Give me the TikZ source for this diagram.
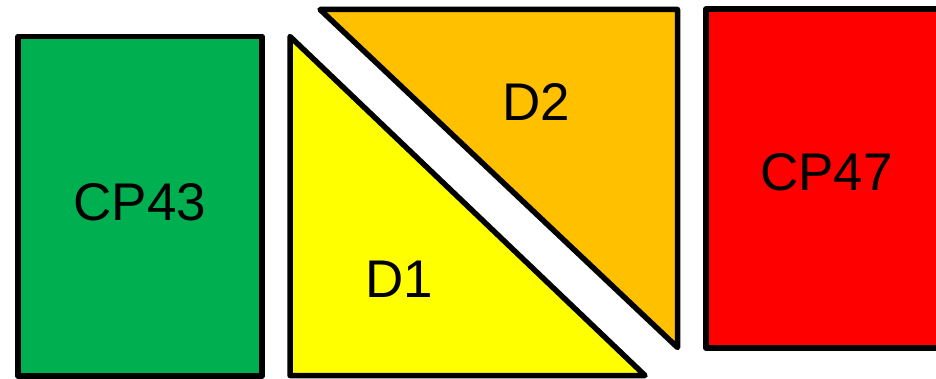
\documentclass[tikz,border=0pt]{standalone}
\usepackage{fontspec}
\setmainfont{Liberation Sans}
\usepackage{xcolor}
\definecolor{cpgreen}{RGB}{0,176,80}
\definecolor{dyellow}{RGB}{255,255,0}
\definecolor{dorange}{RGB}{255,192,0}
\definecolor{cpred}{RGB}{255,0,0}
\tikzset{
  piece/.style={draw=black,line width=5.5pt,line join=round},
  tag/.style={font=\fontsize{53}{62}\selectfont,inner sep=0pt,text=black}
}

\begin{document}
\begin{tikzpicture}[x=1pt,y=-1pt]
\useasboundingbox (0,0) rectangle (936,379);
\clip (0,0) rectangle (936,379);
% plates
\draw[piece,fill=cpgreen] (18,36.5) rectangle (262,376);
\draw[piece,fill=dyellow] (290,36.5) -- (290,375.5) -- (645,375.5) -- cycle;
\draw[piece,fill=dorange] (320,9.5) -- (677.5,9.5) -- (677.5,347.5) -- cycle;
\draw[piece,fill=cpred] (706,9) rectangle (960,348);
% labels
\node[tag] (cp43) at (140,202.5) {CP43};
\node[tag] (d1) at (399.5,279.5) {D1};
\node[tag] (d2) at (536.5,101.5) {D2};
\node[tag] (cp47) at (826.5,172.5) {CP47};
\end{tikzpicture}
\end{document}
